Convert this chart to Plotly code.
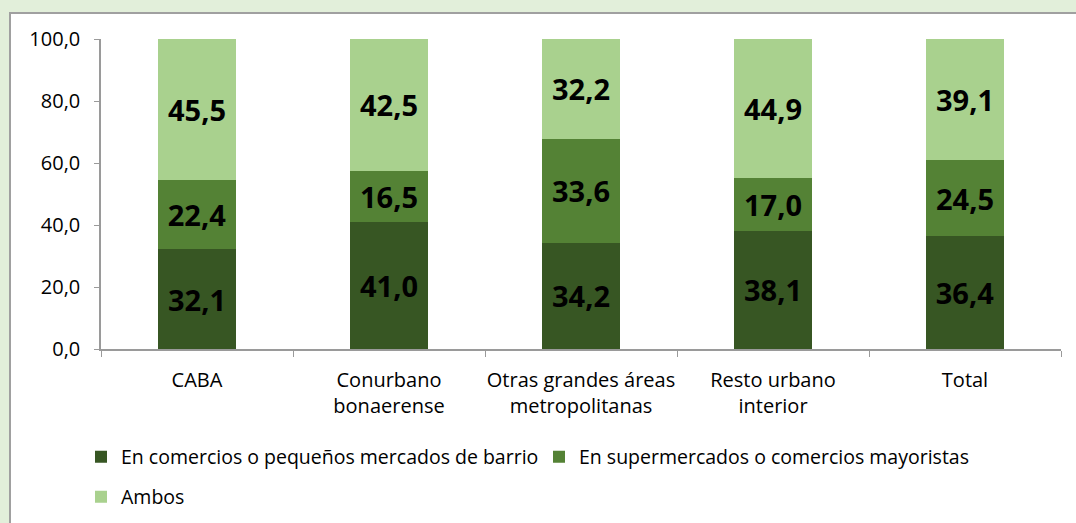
import plotly.graph_objects as go

categories = ["CABA", "Conurbano<br>bonaerense", "Otras grandes áreas<br>metropolitanas",
              "Resto urbano<br>interior", "Total"]
barrio = [32.1, 41.0, 34.2, 38.1, 36.4]
super_may = [22.4, 16.5, 33.6, 17.0, 24.5]
ambos = [45.5, 42.5, 32.2, 44.9, 39.1]

series_names = ["En comercios o pequeños mercados de barrio",
                "En supermercados o comercios mayoristas",
                "Ambos"]
colors = ["#375623", "#548235", "#A9D18E"]
legend_ids = ["legend", "legend2", "legend3"]

FONT = "Open Sans"
W, H = 1076, 523
L, R, T, B = 101, 15, 39, 174
pw, ph = W - L - R, H - T - B


def px_x(p):
    return (p - L) / pw


def px_y(p):
    return (H - B - p) / ph


fig = go.Figure()
for i, (name, vals) in enumerate(zip(series_names, [barrio, super_may, ambos])):
    fig.add_trace(go.Bar(
        x=categories, y=vals, name=name,
        marker=dict(color=colors[i], line=dict(width=0)),
        text=[f"{v:.1f}".replace(".", ",") for v in vals],
        textposition="inside", insidetextanchor="middle",
        textfont=dict(family=FONT, size=29, color="black", weight="bold"),
        textangle=0,
        legend=legend_ids[i],
        hoverinfo="skip",
    ))

fig.add_shape(type="rect", xref="paper", yref="paper",
              x0=px_x(10), x1=px_x(1090), y0=px_y(540), y1=px_y(13),
              fillcolor="white", line=dict(color="#A0A0A0", width=2), layer="below")

leg_common = dict(orientation="h", xanchor="left", yanchor="middle",
                  font=dict(family=FONT, size=19.5, color="black"),
                  bgcolor="rgba(0,0,0,0)", itemwidth=30)

fig.update_layout(
    width=W, height=H,
    margin=dict(l=L, r=R, t=T, b=B, autoexpand=False),
    paper_bgcolor="#E2EFDA", plot_bgcolor="white",
    barmode="stack", bargap=0.594,
    separators=",.",
    font=dict(family=FONT, size=20, color="black"),
    showlegend=True,
    uniformtext=dict(minsize=29, mode="show"),
    legend=dict(x=px_x(81), y=px_y(457), **leg_common),
    legend2=dict(x=px_x(539), y=px_y(457), **leg_common),
    legend3=dict(x=px_x(81), y=px_y(497), **leg_common),
    xaxis=dict(showline=True, linecolor="#9A9A9A", linewidth=1.5,
               ticks="outside", tickson="boundaries", ticklen=6, tickcolor="#9A9A9A",
               tickfont=dict(family=FONT, size=20), ticklabelstandoff=12, tickangle=0,
               showgrid=False, mirror=False, range=[-0.5, 4.5]),
    yaxis=dict(range=[0, 100], dtick=20, tickformat=".1f",
               showline=True, linecolor="#9A9A9A", linewidth=1.5,
               ticks="outside", ticklen=5, tickcolor="#9A9A9A",
               tickfont=dict(family=FONT, size=20), ticklabelstandoff=10,
               showgrid=False, zeroline=False),
)

fig.write_html("out.html", config={"displayModeBar": False},
               post_script="document.body.style.margin='0';document.body.style.overflow='hidden';")
